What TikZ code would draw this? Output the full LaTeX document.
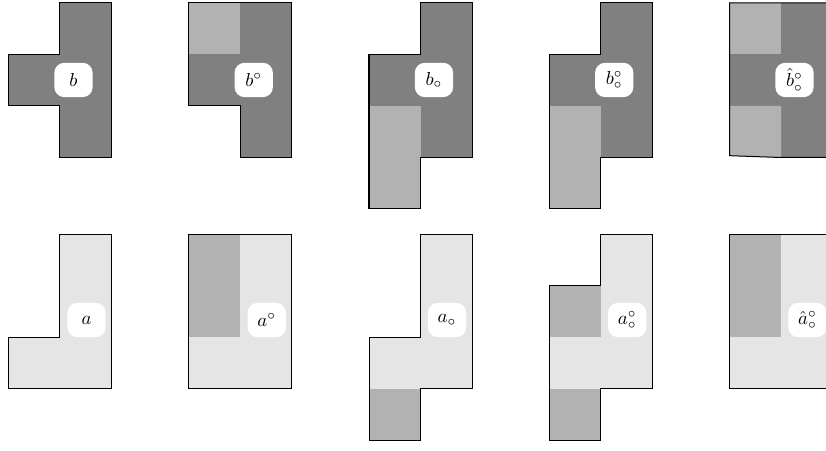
\documentclass[tikz,border=0pt]{standalone}
\newcommand\lbltxt[1]{\scalebox{1.13}{$#1$}}
\begin{document}
\begin{tikzpicture}[x=30.9pt,y=-30.9pt,
  outline/.style={draw=black,line width=0.6pt,line join=miter},
  dark/.style={fill=black!50},
  mid/.style={fill=black!30},
  light/.style={fill=black!10},
  lab/.style={fill=white,rounded corners=6pt,minimum width=23pt,minimum height=20.6pt,inner sep=0pt}]
\clip (0,0) rectangle (16.039,8.757);
% ---------- top row ----------
\begin{scope}[shift={(0.165,0.058)}]
  \fill[dark] (1,0) -- (2,0) -- (2,3) -- (1,3) -- (1,2) -- (0,2) -- (0,1) -- (1,1) -- cycle;
  \draw[outline] (1,0) -- (2,0) -- (2,3) -- (1,3) -- (1,2) -- (0,2) -- (0,1) -- (1,1) -- cycle;
  \node[lab] (b) at (1.262,1.495) {\lbltxt{b}};
\end{scope}
\begin{scope}[shift={(3.665,0.058)}]
  \fill[dark] (0,0) -- (2,0) -- (2,3) -- (1,3) -- (1,2) -- (0,2) -- cycle;
  \fill[mid] (0,0) rectangle (1,1);
  \draw[outline] (0,0) -- (2,0) -- (2,3) -- (1,3) -- (1,2) -- (0,2) -- cycle;
  \node[lab] (bu) at (1.262,1.495) {\lbltxt{b^\circ}};
\end{scope}
\begin{scope}[shift={(7.165,0.058)}]
  \fill[dark] (1,0) -- (2,0) -- (2,3) -- (1,3) -- (1,4) -- (0,4) -- (0,1) -- (1,1) -- cycle;
  \fill[mid] (0,2) rectangle (1,4);
  \draw[outline] (1,0) -- (2,0) -- (2,3) -- (1,3) -- (1,4) -- (0,4) -- (0,1) -- (1,1) -- cycle;
  \draw[line width=1.2pt] (0,1) -- (0,4);
  \node[lab] (bl) at (1.262,1.495) {\lbltxt{b_\circ}};
\end{scope}
\begin{scope}[shift={(10.665,0.058)}]
  \fill[dark] (1,0) -- (2,0) -- (2,3) -- (1,3) -- (1,4) -- (0,4) -- (0,1) -- (1,1) -- cycle;
  \fill[mid] (0,2) rectangle (1,4);
  \draw[outline] (1,0) -- (2,0) -- (2,3) -- (1,3) -- (1,4) -- (0,4) -- (0,1) -- (1,1) -- cycle;
  \node[lab] (bul) at (1.262,1.495) {\lbltxt{b^\circ_\circ}};
\end{scope}
\begin{scope}[shift={(14.165,0.058)}]
  \fill[dark] (0,0) -- (2,0) -- (2,3) -- (1,3) -- (0,2.965) -- cycle;
  \fill[mid] (0,0) rectangle (1,1);
  \fill[mid] (0,2) -- (1,2) -- (1,3) -- (0,2.965) -- cycle;
  \draw[outline] (0,0) -- (2,0) -- (2,3) -- (1,3) -- (0,2.965) -- cycle;
  \node[lab] (bh) at (1.262,1.495) {\lbltxt{\hat b^\circ_\circ}};
\end{scope}
% ---------- bottom row ----------
\begin{scope}[shift={(0.165,4.544)}]
  \fill[light] (1,0) -- (2,0) -- (2,3) -- (0,3) -- (0,2) -- (1,2) -- cycle;
  \draw[outline] (1,0) -- (2,0) -- (2,3) -- (0,3) -- (0,2) -- (1,2) -- cycle;
  \node[lab] (a) at (1.515,1.67) {\lbltxt{a}};
\end{scope}
\begin{scope}[shift={(3.665,4.544)}]
  \fill[light] (0,0) rectangle (2,3);
  \fill[mid] (0,0) rectangle (1,2);
  \draw[outline] (0,0) rectangle (2,3);
  \node[lab] (au) at (1.515,1.67) {\lbltxt{a^\circ}};
\end{scope}
\begin{scope}[shift={(7.165,4.544)}]
  \fill[light] (1,0) -- (2,0) -- (2,3) -- (1,3) -- (1,4) -- (0,4) -- (0,2) -- (1,2) -- cycle;
  \fill[mid] (0,3) rectangle (1,4);
  \draw[outline] (1,0) -- (2,0) -- (2,3) -- (1,3) -- (1,4) -- (0,4) -- (0,2) -- (1,2) -- cycle;
  \node[lab] (al) at (1.515,1.67) {\lbltxt{a_\circ}};
\end{scope}
\begin{scope}[shift={(10.665,4.544)}]
  \fill[light] (1,0) -- (2,0) -- (2,3) -- (1,3) -- (1,4) -- (0,4) -- (0,1) -- (1,1) -- cycle;
  \fill[mid] (0,1) rectangle (1,2);
  \fill[mid] (0,3) rectangle (1,4);
  \draw[outline] (1,0) -- (2,0) -- (2,3) -- (1,3) -- (1,4) -- (0,4) -- (0,1) -- (1,1) -- cycle;
  \node[lab] (aul) at (1.515,1.67) {\lbltxt{a^\circ_\circ}};
\end{scope}
\begin{scope}[shift={(14.165,4.544)}]
  \fill[light] (0,0) rectangle (2,3);
  \fill[mid] (0,0) rectangle (1,2);
  \draw[outline] (0,0) rectangle (2,3);
  \node[lab] (ah) at (1.515,1.67) {\lbltxt{\hat a^\circ_\circ}};
\end{scope}
\end{tikzpicture}
\end{document}
